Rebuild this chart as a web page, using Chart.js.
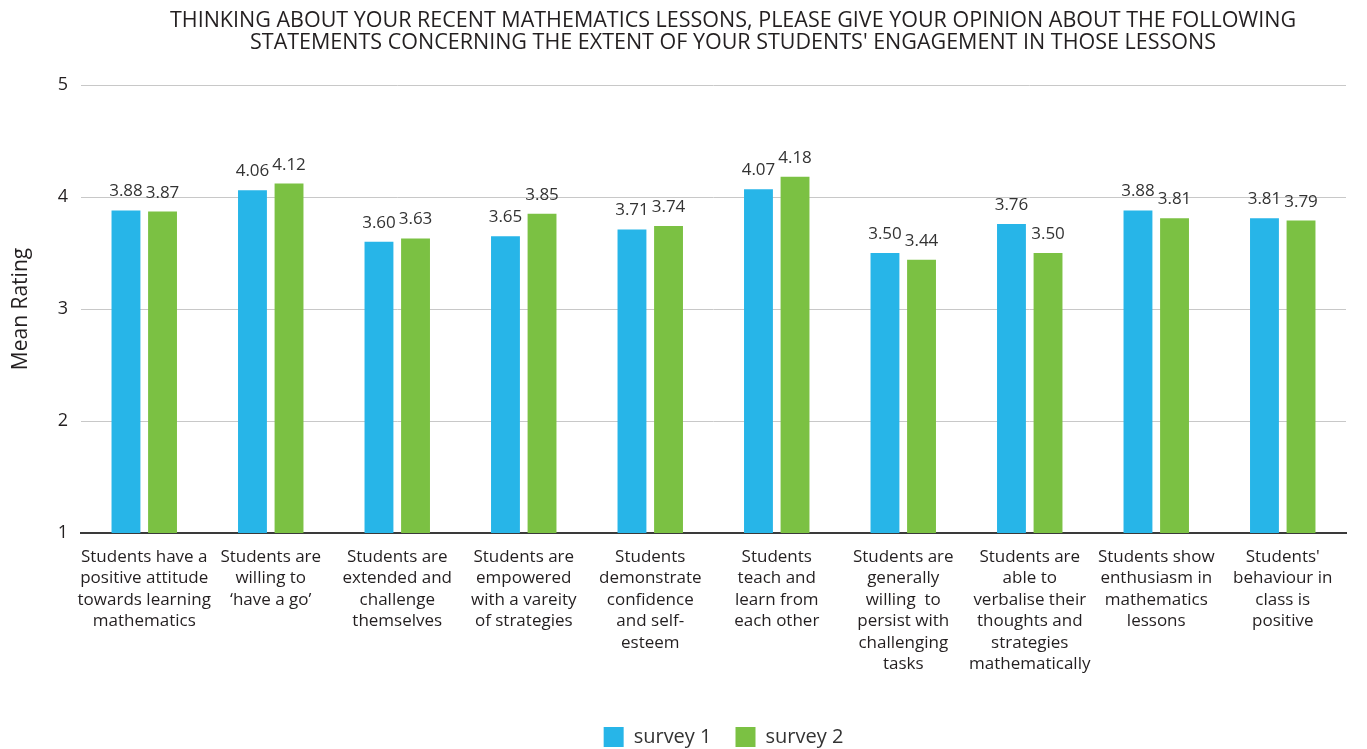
<!DOCTYPE html>
<html>
<head>
<meta charset="utf-8">
<script src="https://cdn.jsdelivr.net/npm/chart.js@4.4.1/dist/chart.umd.min.js"></script>
<style>
  html, body { margin: 0; padding: 0; background: #ffffff; }
  #wrap { width: 1367px; height: 749px; position: relative; }
</style>
</head>
<body>
<div id="wrap"><canvas id="c" width="1367" height="749"></canvas></div>
<script>
const titleLines = [
  "THINKING ABOUT YOUR RECENT MATHEMATICS LESSONS, PLEASE GIVE YOUR OPINION ABOUT THE FOLLOWING",
  "STATEMENTS CONCERNING THE EXTENT OF YOUR STUDENTS' ENGAGEMENT IN THOSE LESSONS"
];
const categories = [
  ["Students have a", "positive attitude", "towards learning", "mathematics"],
  ["Students are", "willing to", "\u2018have a go\u2019"],
  ["Students are", "extended and", "challenge", "themselves"],
  ["Students are", "empowered", "with a vareity", "of strategies"],
  ["Students", "demonstrate", "confidence", "and self-", "esteem"],
  ["Students", "teach and", "learn from", "each other"],
  ["Students are", "generally", "willing  to", "persist with", "challenging", "tasks"],
  ["Students are", "able to", "verbalise their", "thoughts and", "strategies", "mathematically"],
  ["Students show", "enthusiasm in", "mathematics", "lessons"],
  ["Students'", "behaviour in", "class is", "positive"]
];
const survey1 = [3.88, 4.06, 3.60, 3.65, 3.71, 4.07, 3.50, 3.76, 3.88, 3.81];
const survey2 = [3.87, 4.12, 3.63, 3.85, 3.74, 4.18, 3.44, 3.50, 3.81, 3.79];
const seriesNames = ["survey 1", "survey 2"];
const yTicks = [1, 2, 3, 4, 5];
const yTitle = "Mean Rating";

const BLUE = "#27b5e8";
const GREEN = "#7bc143";
const TEXT = "#231f20";

const titlePlugin = {
  id: "customTitle",
  afterDraw(chart) {
    const ctx = chart.ctx;
    ctx.save();
    ctx.font = '21.5px "Open Sans"';
    ctx.fillStyle = TEXT;
    ctx.textAlign = "center";
    ctx.textBaseline = "middle";
    titleLines.forEach((t, i) => ctx.fillText(t, 733, 21 + i * 22));
    ctx.restore();
  }
};

const valueLabels = {
  id: "valueLabels",
  afterDatasetsDraw(chart) {
    const ctx = chart.ctx;
    ctx.save();
    ctx.font = '17px "Open Sans"';
    ctx.fillStyle = "#333333";
    ctx.textAlign = "center";
    ctx.textBaseline = "alphabetic";
    chart.data.datasets.forEach((ds, i) => {
      chart.getDatasetMeta(i).data.forEach((bar, j) => {
        ctx.fillText(ds.data[j].toFixed(2), bar.x, bar.y - 14);
      });
    });
    ctx.restore();
  }
};

const legendShift = {
  id: "legendShift",
  afterLayout(chart) {
    if (chart.legend) { chart.legend.left += 10; chart.legend.right += 10; }
  }
};

new Chart(document.getElementById("c"), {
  type: "bar",
  data: {
    labels: categories,
    datasets: [
      { label: seriesNames[0], data: survey1, backgroundColor: BLUE, borderWidth: 0 },
      { label: seriesNames[1], data: survey2, backgroundColor: GREEN, borderWidth: 0 }
    ]
  },
  options: {
    responsive: false,
    animation: false,
    devicePixelRatio: 1,
    layout: { padding: { top: 85, right: 21, bottom: -8, left: 0 } },
    datasets: { bar: { categoryPercentage: 0.578, barPercentage: 0.79 } },
    plugins: {
      title: { display: false },
      tooltip: { enabled: false },
      legend: {
        position: "bottom",
        fullSize: false,
        labels: {
          font: { family: "Open Sans", size: 20 },
          color: "#333333",
          boxWidth: 20,
          boxHeight: 20,
          padding: 24
        }
      }
    },
    scales: {
      x: {
        grid: { display: false, drawTicks: false },
        border: { display: true, color: "#3a3a3a", width: 2 },
        ticks: {
          color: TEXT,
          font: { family: "Open Sans", size: 17, lineHeight: 1.265 },
          padding: 13,
          maxRotation: 0,
          autoSkip: false
        },
        afterFit(scale) { scale.height = 170; }
      },
      y: {
        min: 1,
        max: 5,
        afterBuildTicks(scale) { scale.ticks = yTicks.map(v => ({ value: v })); },
        grid: { color: "#c8c8c8", lineWidth: 1, drawTicks: false },
        border: { display: false },
        ticks: {
          color: TEXT,
          font: { family: "Open Sans", size: 18 },
          padding: 13
        },
        title: {
          display: true,
          text: yTitle,
          color: TEXT,
          font: { family: "Open Sans", size: 21 },
          padding: { top: 8, bottom: 0 }
        },
        afterFit(scale) { scale.width = 81; }
      }
    }
  },
  plugins: [valueLabels, titlePlugin, legendShift]
});
</script>
</body>
</html>
